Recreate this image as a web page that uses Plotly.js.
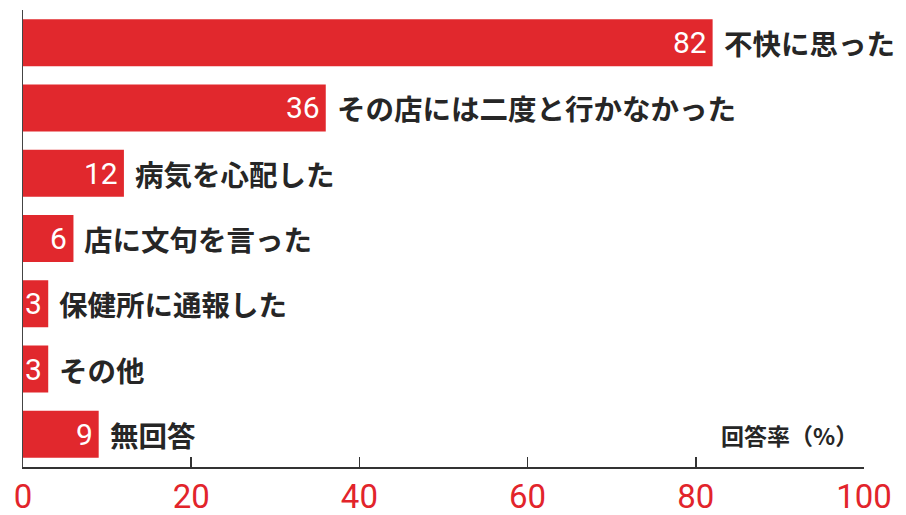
<!DOCTYPE html>
<html>
<head>
<meta charset="utf-8">
<script src="https://cdn.plot.ly/plotly-3.0.1.min.js"></script>
<style>html,body{margin:0;padding:0;background:#fff;}#chart{width:906px;height:515px;}</style>
</head>
<body>
<div id="chart"></div>
<script>
const categories = ["不快に思った","その店には二度と行かなかった","病気を心配した","店に文句を言った","保健所に通報した","その他","無回答"];
const values = [82, 36, 12, 6, 3, 3, 9];
const tickValues = [0, 20, 40, 60, 80, 100];
const tickLabels = ["0", "20", "40", "60", "80", "100"];
const axisTitle = "回答率（%）";

const barColor = "#e1282d";
const jpFont = "Noto Sans CJK JP, sans-serif";

const trace = {
  type: "bar",
  orientation: "h",
  x: values,
  y: categories,
  marker: {color: barColor, line: {width: 0}},
  hoverinfo: "skip"
};

const annotations = [];
categories.forEach((c, i) => {
  annotations.push({
    x: values[i], y: c, xref: "x", yref: "y",
    text: String(values[i]), showarrow: false,
    xanchor: "right", yanchor: "middle", xshift: -4,
    font: {family: "Roboto, sans-serif", size: 30, color: "#ffffff"}
  });
  annotations.push({
    x: values[i], y: c, xref: "x", yref: "y",
    text: "<b>" + c + "</b>", showarrow: false,
    xanchor: "left", yanchor: "middle", xshift: 9,
    font: {family: jpFont, size: 28.5, color: "#262626"}
  });
});
annotations.push({
  x: 100, y: 0.07, xref: "x", yref: "paper",
  text: "<b>" + axisTitle + "</b>", showarrow: false,
  xanchor: "right", yanchor: "middle", xshift: -4,
  font: {family: jpFont, size: 23, color: "#262626"}
});

const layout = {
  width: 906, height: 515,
  margin: {l: 23, r: 42, t: 10, b: 48, pad: 0},
  paper_bgcolor: "#ffffff", plot_bgcolor: "#ffffff",
  showlegend: false,
  bargap: 0.28,
  xaxis: {
    range: [0, 100], fixedrange: true,
    tickvals: tickValues, ticktext: tickLabels,
    ticks: "inside", ticklen: 10, tickwidth: 1.5, tickcolor: "#333333",
    showline: true, linecolor: "#333333", linewidth: 1.5,
    showgrid: false, zeroline: false,
    tickfont: {family: "Roboto, sans-serif", size: 33, color: "#e2242b"},
    ticklabelstandoff: 0
  },
  yaxis: {
    type: "category", autorange: "reversed", fixedrange: true,
    showticklabels: false, ticks: "",
    showline: true, linecolor: "#444444", linewidth: 1.5,
    showgrid: false, zeroline: false
  },
  annotations: annotations
};

Plotly.newPlot("chart", [trace], layout, {displayModeBar: false, staticPlot: true});
</script>
</body>
</html>
